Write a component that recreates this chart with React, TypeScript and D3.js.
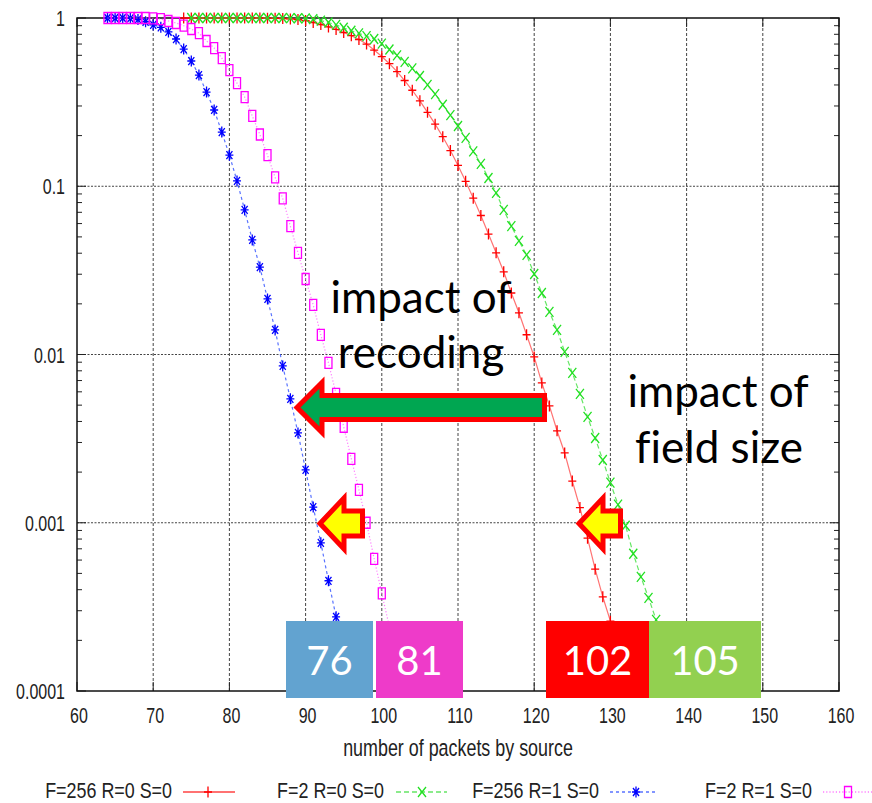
import React from "react";
import * as d3 from "d3";

// ---- data (x = number of packets by source, y = probability) ----
const redSeries: [number, number][] = [
  [74, 1], [75, 1], [76, 1], [77, 1], [78, 1], [79, 1], [80, 1], [81, 1], [82, 1], [83, 1], [84, 1], [85, 0.998], [86, 0.996],
  [87, 0.993], [88, 0.988], [89, 0.98], [90, 0.965], [91, 0.94], [92, 0.915], [93, 0.885], [94, 0.855], [95, 0.82],
  [96, 0.785], [97, 0.745], [98, 0.7], [99, 0.645], [100, 0.59], [101, 0.535], [102, 0.48], [103, 0.425], [104, 0.372],
  [105, 0.322], [106, 0.275], [107, 0.234], [108, 0.197], [109, 0.163], [110, 0.133], [111, 0.107], [112, 0.085],
  [113, 0.067], [114, 0.052], [115, 0.0402], [116, 0.031], [117, 0.0232], [118, 0.0177], [119, 0.0131], [120, 0.00968],
  [121, 0.00678], [122, 0.00495], [123, 0.00352], [124, 0.0026], [125, 0.00177], [126, 0.00123], [127, 0.00081],
  [128, 0.00053], [129, 0.000363], [130, 0.00026], [131, 0.00017],
];
const greenSeries: [number, number][] = [
  [75, 1], [76, 1], [77, 1], [78, 1], [79, 1], [80, 1], [81, 1], [82, 1], [83, 1], [84, 1], [85, 1], [86, 1], [87, 1],
  [88, 0.999], [89, 0.997], [90, 0.994], [91, 0.985], [92, 0.965], [93, 0.94], [94, 0.91], [95, 0.875], [96, 0.84],
  [97, 0.81], [98, 0.78], [99, 0.75], [100, 0.705], [101, 0.65], [102, 0.6], [103, 0.548], [104, 0.502], [105, 0.452],
  [106, 0.4], [107, 0.353], [108, 0.305], [109, 0.265], [110, 0.228], [111, 0.194], [112, 0.161], [113, 0.136],
  [114, 0.112], [115, 0.0913], [116, 0.0723], [117, 0.058], [118, 0.0473], [119, 0.0391], [120, 0.0301], [121, 0.0232],
  [122, 0.0179], [123, 0.014], [124, 0.01036], [125, 0.00778], [126, 0.00583], [127, 0.00426], [128, 0.00319],
  [129, 0.00236], [130, 0.00173], [131, 0.00128], [132, 0.00096], [133, 0.000654], [134, 0.000477], [135, 0.000358],
  [136, 0.000265], [137, 0.00019],
];
const blueSeries: [number, number][] = [
  [64, 1], [65, 1], [66, 1], [67, 0.995], [68, 0.98], [69, 0.95], [70, 0.91], [71, 0.88], [72, 0.826], [73, 0.75],
  [74, 0.654], [75, 0.555], [76, 0.458], [77, 0.363], [78, 0.284], [79, 0.21], [80, 0.153], [81, 0.1075], [82, 0.0723],
  [83, 0.048], [84, 0.0331], [85, 0.0214], [86, 0.014], [87, 0.00855], [88, 0.00545], [89, 0.00342], [90, 0.00206],
  [91, 0.00124], [92, 0.00076], [93, 0.000452], [94, 0.000276], [95, 0.000166],
];
const magentaSeries: [number, number][] = [
  [64, 1], [65, 1], [66, 1], [67, 1], [68, 1], [69, 1], [70, 0.995], [71, 0.985], [72, 0.96], [73, 0.934], [74, 0.9],
  [75, 0.86], [76, 0.814], [77, 0.73], [78, 0.663], [79, 0.578], [80, 0.49], [81, 0.41], [82, 0.339], [83, 0.262],
  [84, 0.203], [85, 0.153], [86, 0.113], [87, 0.0846], [88, 0.058], [89, 0.0402], [90, 0.0281], [91, 0.0197],
  [92, 0.01307], [93, 0.00891], [94, 0.00583], [95, 0.00372], [96, 0.0024], [97, 0.00157], [98, 0.001], [99, 0.00061],
  [100, 0.00038], [101, 0.00024],
];

const seriesLabels = ["F=256 R=0 S=0", "F=2 R=0 S=0", "F=256 R=1 S=0", "F=2 R=1 S=0"];
const xTicks = [60, 70, 80, 90, 100, 110, 120, 130, 140, 150, 160];
const yTicks = [1, 0.1, 0.01, 0.001, 0.0001];
const yTickLabels = ["1", "0.1", "0.01", "0.001", "0.0001"];
const xAxisTitle = "number of packets by source";
const boxLabels = ["76", "81", "102", "105"];
const boxColors = ["#62a3d0", "#ee3bc9", "#ff0000", "#92d050"];

// ---- layout ----
const W = 872, H = 803;
const x = d3.scaleLinear().domain([60, 160]).range([77, 839]);
const y = d3.scaleLog().domain([1e-4, 1]).range([691, 18]);

type Marker = "plus" | "cross" | "star" | "square";
const styles = [
  { data: redSeries, color: "#ff0000", line: "#ff5050", dash: "none", marker: "plus" as Marker, lw: 1.2 },
  { data: greenSeries, color: "#22e022", line: "#40e040", dash: "5,3", marker: "cross" as Marker, lw: 1.2 },
  { data: blueSeries, color: "#0000ff", line: "#3050ff", dash: "3,3", marker: "star" as Marker, lw: 1.2 },
  { data: magentaSeries, color: "#ff00ff", line: "#ff60ff", dash: "1.2,2", marker: "square" as Marker, lw: 1.2 },
];

function markerPath(m: Marker, cx: number, cy: number): string {
  if (m === "plus") return `M${cx - 4},${cy}h8M${cx},${cy - 5.5}v11`;
  if (m === "cross") return `M${cx - 4},${cy - 5}L${cx + 4},${cy + 5}M${cx + 4},${cy - 5}L${cx - 4},${cy + 5}`;
  if (m === "star")
    return `M${cx - 4},${cy}h8M${cx},${cy - 5.5}v11M${cx - 3},${cy - 4}L${cx + 3},${cy + 4}M${cx + 3},${cy - 4}L${cx - 3},${cy + 4}`;
  return `M${cx - 3.5},${cy - 5.5}h7v11h-7Z`;
}

function arrowPath(tip: number, headBack: number, tail: number, cy: number, headHalf: number, shaftHalf: number) {
  return `M${tip},${cy}L${headBack},${cy - headHalf}L${headBack},${cy - shaftHalf}L${tail},${cy - shaftHalf}L${tail},${cy + shaftHalf}L${headBack},${cy + shaftHalf}L${headBack},${cy + headHalf}Z`;
}

const boxes = [
  { x0: 286, x1: 373 },
  { x0: 376, x1: 463 },
  { x0: 546, x1: 649 },
  { x0: 649, x1: 761 },
];

const legendLayout = [
  { textEnd: 172, s0: 183, s1: 235, m: 208 },
  { textEnd: 384, s0: 396, s1: 447, m: 422 },
  { textEnd: 599, s0: 610, s1: 657, m: 636 },
  { textEnd: 812, s0: 823, s1: 872, m: 848 },
];

const tickFont = "'Liberation Sans', Arial, sans-serif";
const annFont = "Lato, 'Open Sans', sans-serif";

export default function App() {
  const line = d3
    .line<[number, number]>()
    .x((d) => x(d[0]))
    .y((d) => y(d[1]));

  const minor: number[] = [];
  for (let e = -4; e < 0; e++) for (let k = 2; k <= 9; k++) minor.push(k * Math.pow(10, e));

  const [xl, xr] = x.range();
  const [yb, yt] = y.range();

  return (
    <svg width={W} height={H} style={{ position: "absolute", left: 0, top: 0, background: "#fff" }}>
      <rect width={W} height={H} fill="#fff" />
      {/* grid */}
      {xTicks.slice(1, -1).map((t) => (
        <line key={"gx" + t} x1={x(t)} x2={x(t)} y1={yb} y2={yt} stroke="#444" strokeWidth={1} strokeDasharray="3,2" />
      ))}
      {yTicks.slice(1, -1).map((t) => (
        <line key={"gy" + t} x1={xl} x2={xr} y1={y(t)} y2={y(t)} stroke="#444" strokeWidth={1} strokeDasharray="2,1.5" />
      ))}
      {/* minor ticks */}
      {minor.map((t) => (
        <g key={"m" + t}>
          <line x1={xl} x2={xl + 5} y1={y(t)} y2={y(t)} stroke="#222" />
          <line x1={xr} x2={xr - 5} y1={y(t)} y2={y(t)} stroke="#222" />
        </g>
      ))}
      {yTicks.map((t) => (
        <g key={"M" + t}>
          <line x1={xl} x2={xl + 9} y1={y(t)} y2={y(t)} stroke="#222" />
          <line x1={xr} x2={xr - 9} y1={y(t)} y2={y(t)} stroke="#222" />
        </g>
      ))}
      {xTicks.map((t) => (
        <g key={"xt" + t}>
          <line x1={x(t)} x2={x(t)} y1={yb} y2={yb - 9} stroke="#222" />
          <line x1={x(t)} x2={x(t)} y1={yt} y2={yt + 9} stroke="#222" />
        </g>
      ))}
      {/* frame */}
      <rect x={xl} y={yt} width={xr - xl} height={yb - yt} fill="none" stroke="#111" strokeWidth={1.5} />
      {/* tick labels */}
      {yTicks.map((t, i) => (
        <text
          key={"yl" + t}
          transform={`translate(65,${y(t) + 8}) scale(1,1.42)`}
          textAnchor="end"
          fontFamily={tickFont}
          fontSize={16}
          fill="#222"
        >
          {yTickLabels[i]}
        </text>
      ))}
      {xTicks.map((t) => (
        <text
          key={"xl" + t}
          transform={`translate(${x(t) + 2},723) scale(1,1.42)`}
          textAnchor="middle"
          fontFamily={tickFont}
          fontSize={16}
          fill="#222"
        >
          {t}
        </text>
      ))}
      <text transform={`translate(458,756) scale(1,1.3)`} textAnchor="middle" fontFamily={tickFont} fontSize={17.9} fill="#222">
        {xAxisTitle}
      </text>
      {/* series */}
      {styles.map((s, i) => (
        <g key={"s" + i}>
          <path d={line(s.data) || ""} fill="none" stroke={s.line} strokeWidth={s.lw} strokeDasharray={s.dash} opacity={0.8} />
          {s.data.map((d, j) => (
            <path key={j} d={markerPath(s.marker, x(d[0]), y(d[1]))} fill="none" stroke={s.color} strokeWidth={1.3} />
          ))}
        </g>
      ))}
      {/* legend */}
      {styles.map((s, i) => {
        const L = legendLayout[i];
        return (
          <g key={"lg" + i}>
            <text
              transform={`translate(${L.textEnd},798) scale(1,1.25)`}
              textAnchor="end"
              fontFamily={tickFont}
              fontSize={17.9}
              fill="#222"
            >
              {seriesLabels[i]}
            </text>
            <line
              x1={L.s0}
              x2={L.s1}
              y1={792}
              y2={792}
              stroke={s.line}
              strokeWidth={i === 0 ? 2 : 1.3}
              strokeDasharray={s.dash}
              opacity={0.8}
            />
            <path d={markerPath(s.marker, L.m, 792)} fill="none" stroke={s.color} strokeWidth={1.3} />
          </g>
        );
      })}
      {/* annotations */}
      <path d={arrowPath(297, 322, 544.5, 407.5, 25, 12)} fill="#00a651" stroke="#ff0000" strokeWidth={5} strokeLinejoin="miter" />
      <path d={arrowPath(320, 344, 362.5, 523.5, 25.5, 12.5)} fill="#ffff00" stroke="#ff0000" strokeWidth={5} strokeLinejoin="miter" />
      <path d={arrowPath(579, 603, 620.5, 523.5, 25.5, 12.5)} fill="#ffff00" stroke="#ff0000" strokeWidth={5} strokeLinejoin="miter" />
      <g
        fontFamily={annFont}
        fontSize={44}
        fill="#000"
        textAnchor="middle"
        style={{ fontVariantLigatures: "none", fontFeatureSettings: "'liga' 0, 'clig' 0" }}
      >
        <text x={421} y={313}>impact of</text>
        <text x={421} y={368}>recoding</text>
        <text x={718} y={407}>impact of</text>
        <text x={719} y={463}>field size</text>
      </g>
      {boxes.map((b, i) => (
        <g key={"b" + i}>
          <rect x={b.x0} y={621} width={b.x1 - b.x0} height={77} fill={boxColors[i]} />
          <text x={(b.x0 + b.x1) / 2} y={675} textAnchor="middle" fontFamily={annFont} fontSize={40} fill="#fff">
            {boxLabels[i]}
          </text>
        </g>
      ))}
    </svg>
  );
}
